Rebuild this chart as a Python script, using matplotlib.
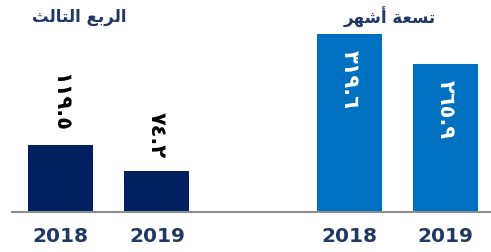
import matplotlib
matplotlib.use("Agg")
import matplotlib.pyplot as plt

# Data
groups = ["الربع الثالث", "تسعة أشهر"]
# visual (shaped, display-order) forms of the group titles
group_titles_display = ["\uFE9A\uFEDF\uFE8E\uFE98\uFEDF\uFE8D \uFECA\uFE91\uFEAE\uFEDF\uFE8D",
                        "\uFEAE\uFEEC\uFEB7\uFE83 \uFE94\uFECC\uFEB4\uFE97"]
years = ["2018", "2019", "2018", "2019"]
values = [119.5, 74.2, 319.6, 265.9]
value_labels = ["١١٩.٥", "٧٤.٢", "٣١٩.٦", "٢٦٥.٩"]
positions = [0, 1, 3, 4]

dark = "#002060"
light = "#0070C0"
navy_text = "#1F3864"
bar_colors = [dark, dark, light, light]

W, H = 491, 253
fig = plt.figure(figsize=(W/100, H/100), dpi=100)
ax = fig.add_axes([12/W, 40/H, (W-12)/W, 213/H])

bars = ax.bar(positions, values, width=0.675, color=bar_colors, zorder=2)
ax.set_xlim(-0.504, 4.47)
ax.set_ylim(0, 382)

for s in ["top", "right", "left"]:
    ax.spines[s].set_visible(False)
ax.spines["bottom"].set_color("#8C8C8C")
ax.spines["bottom"].set_linewidth(1.5)
ax.set_yticks([])
ax.set_xticks(positions)
ax.set_xticklabels(years, fontsize=14.5, fontweight="bold", color=navy_text)
ax.tick_params(axis="x", length=0, pad=10)

# value labels
for i, (p, v, lab) in enumerate(zip(positions, values, value_labels)):
    if i < 2:
        ax.annotate(lab, (p, v), xytext=(0, 14), textcoords="offset pixels",
                    rotation=270, ha="center", va="bottom", fontsize=15,
                    fontweight="bold", color="black")
    else:
        ax.annotate(lab, (p, v), xytext=(0, -15), textcoords="offset pixels",
                    rotation=270, ha="center", va="top", fontsize=15,
                    fontweight="bold", color="white")

# group titles
fig.text(79/W, 1 - 17/H, group_titles_display[0], ha="center", va="center",
         fontsize=12, fontweight="bold", color=navy_text)
fig.text(390/W, 1 - 17/H, group_titles_display[1], ha="center", va="center",
         fontsize=12, fontweight="bold", color=navy_text)

fig.savefig("out.png", dpi=100)
